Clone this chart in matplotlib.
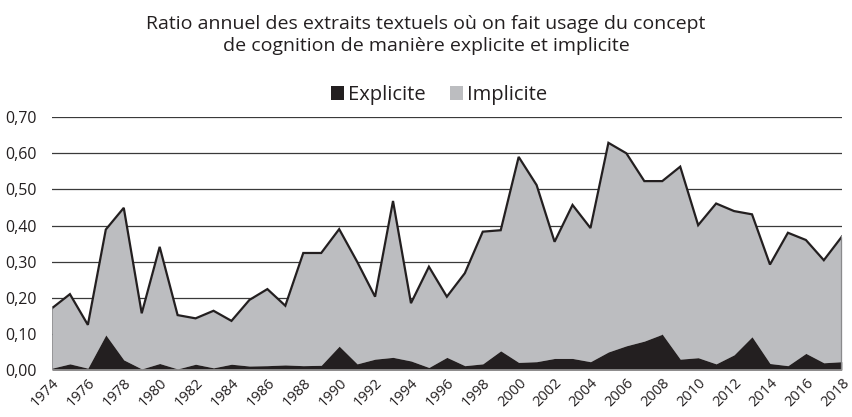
import matplotlib
matplotlib.use("Agg")
import matplotlib.pyplot as plt
from matplotlib.patches import Patch
from matplotlib.ticker import FuncFormatter, MultipleLocator

years = list(range(1974, 2019))
explicite = [0.005, 0.017, 0.005, 0.097, 0.028, 0.003, 0.018, 0.003, 0.016, 0.006,
             0.016, 0.011, 0.012, 0.014, 0.012, 0.013, 0.066, 0.017, 0.030, 0.035,
             0.025, 0.007, 0.035, 0.012, 0.017, 0.053, 0.021, 0.023, 0.032, 0.032,
             0.023, 0.050, 0.067, 0.080, 0.099, 0.030, 0.034, 0.017, 0.042, 0.092,
             0.018, 0.012, 0.046, 0.020, 0.023]
total = [0.171, 0.210, 0.125, 0.389, 0.449, 0.157, 0.341, 0.152, 0.143, 0.164,
         0.136, 0.194, 0.224, 0.178, 0.324, 0.324, 0.390, 0.300, 0.203, 0.468,
         0.185, 0.286, 0.203, 0.268, 0.383, 0.387, 0.590, 0.512, 0.355, 0.457,
         0.393, 0.629, 0.600, 0.523, 0.523, 0.563, 0.401, 0.461, 0.440, 0.431,
         0.292, 0.380, 0.360, 0.304, 0.369]
implicite = [round(t - e, 3) for t, e in zip(total, explicite)]
tick_years = list(range(1974, 2019, 2))

plt.rcParams['font.family'] = ['Open Sans', 'DejaVu Sans']
BLACK = '#231f20'
GRAY = '#bcbdc0'

fig = plt.figure(figsize=(8.52, 4.17), dpi=100)
ax = fig.add_axes([0.061, 0.1127, 0.927, 0.6063])

stack_top = [e + i for e, i in zip(explicite, implicite)]
ax.fill_between(years, explicite, stack_top, color=GRAY, lw=0, zorder=2)
ax.fill_between(years, 0, explicite, color=BLACK, lw=0, zorder=3)
ax.plot(years, stack_top, color=BLACK, lw=1.6, zorder=4, solid_joinstyle='miter')
ax.plot([years[0], years[0]], [0, stack_top[0]], color='#8a8a8c', lw=1.2, zorder=4)
ax.plot([years[-1], years[-1]], [0, stack_top[-1]], color='#8a8a8c', lw=1.6, zorder=4)

ax.set_xlim(years[0], years[-1])
ax.set_ylim(0, 0.7)
ax.yaxis.set_major_locator(MultipleLocator(0.1))
ax.yaxis.set_major_formatter(FuncFormatter(lambda v, p: f"{v:.2f}".replace('.', ',')))
ax.grid(axis='y', color='#3a3a3a', lw=0.9, zorder=1)
ax.axhline(0, color='#999999', lw=1.2, zorder=5)
for s in ax.spines.values():
    s.set_visible(False)
ax.set_xticks(tick_years)
ax.set_xticklabels([str(y) for y in tick_years], rotation=45, ha='right',
                   rotation_mode='anchor', fontsize=10.5, color='#231f20')
ax.tick_params(axis='y', labelsize=11.5)
ax.tick_params(axis='both', length=0, colors='#231f20')
ax.tick_params(axis='x', pad=4)
ax.tick_params(axis='y', pad=11)

fig.text(0.5, 0.965, "Ratio annuel des extraits textuels où on fait usage du concept\n"
         "de cognition de manière explicite et implicite",
         ha='center', va='top', fontsize=14, color='#231f20', linespacing=1.35)

handles = [Patch(facecolor=BLACK, label='Explicite'), Patch(facecolor=GRAY, label='Implicite')]
fig.legend(handles=handles, loc='center', bbox_to_anchor=(0.515, 0.772), ncol=2,
           frameon=False, fontsize=14.5, handlelength=0.65, handleheight=0.65,
           handletextpad=0.2, columnspacing=1.2, labelcolor='#231f20')

fig.savefig('out.png', dpi=100)
